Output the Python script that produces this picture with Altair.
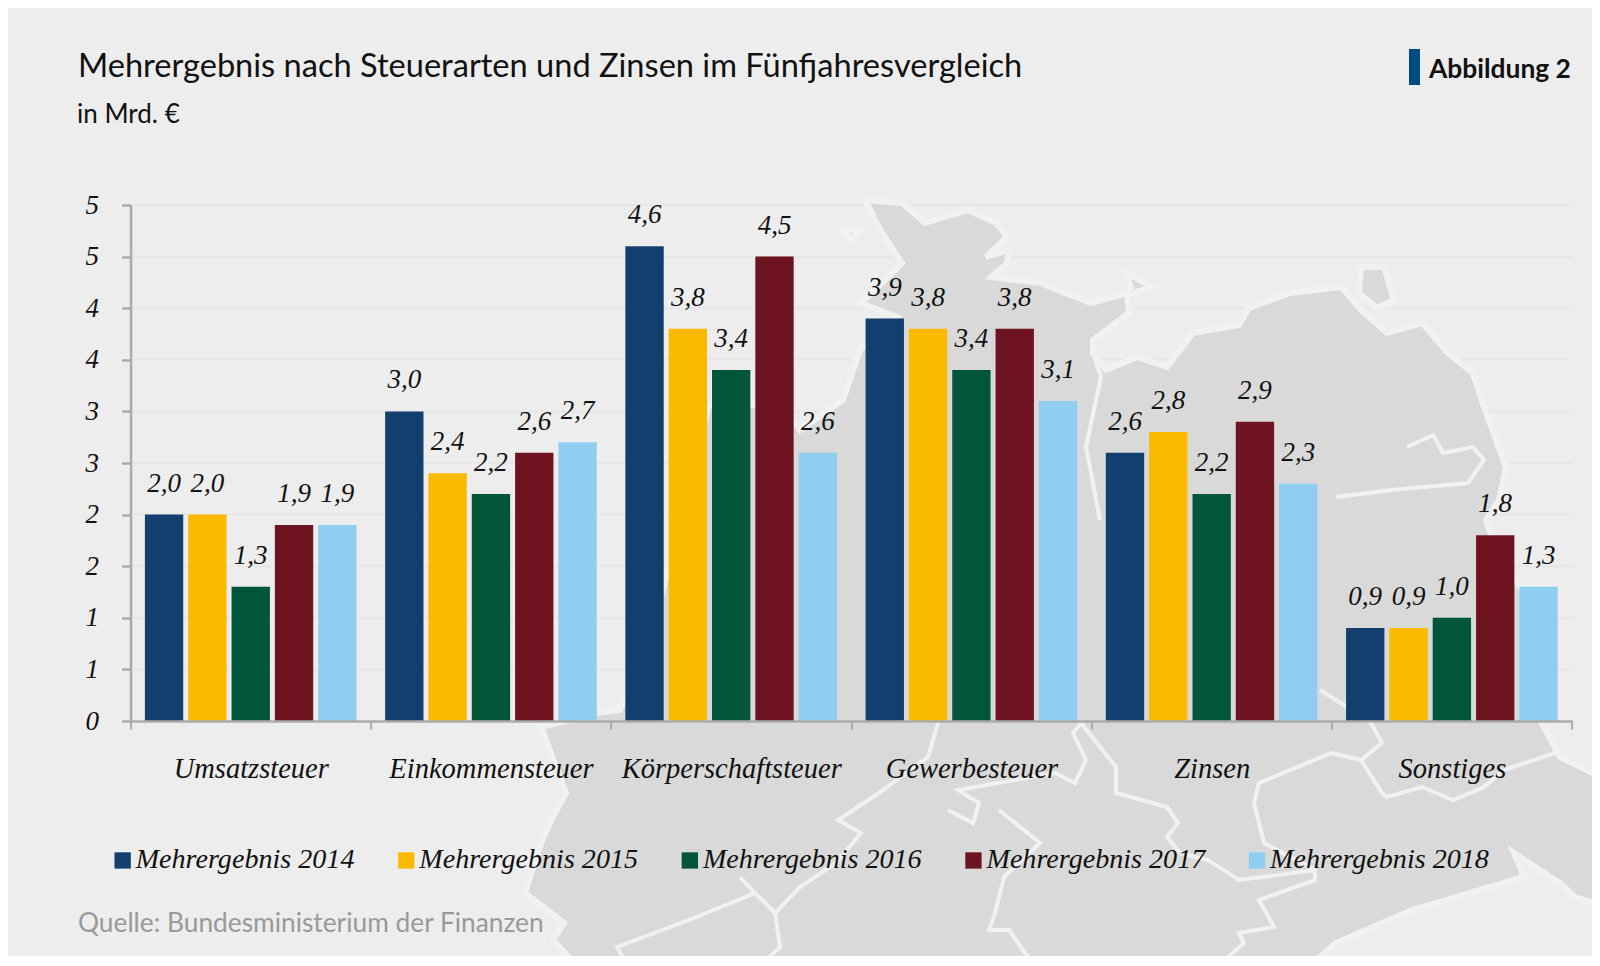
import altair as alt
import pandas as pd

categories = ["Umsatzsteuer", "Einkommensteuer", "Körperschaftsteuer", "Gewerbesteuer", "Zinsen", "Sonstiges"]
series = ["Mehrergebnis 2014", "Mehrergebnis 2015", "Mehrergebnis 2016", "Mehrergebnis 2017", "Mehrergebnis 2018"]
colors = ["#123F6D", "#FBB900", "#00553A", "#6E1420", "#8FCEF0"]
v2014 = [2.0, 3.0, 4.6, 3.9, 2.6, 0.9]
v2015 = [2.0, 2.4, 3.8, 3.8, 2.8, 0.9]
v2016 = [1.3, 2.2, 3.4, 3.4, 2.2, 1.0]
v2017 = [1.9, 2.6, 4.5, 3.8, 2.9, 1.8]
v2018 = [1.9, 2.7, 2.6, 3.1, 2.3, 1.3]
y_ticks = [0, 0.5, 1, 1.5, 2, 2.5, 3, 3.5, 4, 4.5, 5]

FONT_SERIF = "Liberation Serif"
FONT_SANS = "Lato"
OX, OY = 130.6, 205.0  # plot origin in page pixels
PLOT_W, PLOT_H = 1441.4, 516

# Decorative background map (page pixels)
land = [[865,200],[902,203],[925,223],[968,210],[996,223],[1007,237],[986,257],[1009,250],[1007,263],[991,277],
        [1040,283],[1091,303],[1127,293],[1129,313],[1093,340],[1093,353],[1106,370],[1137,357],[1167,367],[1193,333],
        [1239,325],[1249,308],[1290,293],[1341,287],[1361,310],[1387,333],[1422,323],[1448,353],[1473,373],[1484,407],
        [1496,440],[1506,467],[1499,500],[1486,520],[1500,560],[1530,600],[1540,720],[1560,757],[1600,777],[1600,905],
        [1575,897],[1560,883],[1514,853],[1524,877],[1412,910],[1336,943],[1310,966],[577,966],[553,940],[564,923],
        [525,893],[541,843],[551,820],[566,793],[541,727],[597,713],[620,710],[663,590],[709,405],[780,405],[800,430],
        [843,400],[860,350],[897,317],[861,303],[902,263],[882,233],[865,200]]
islands = [
    [[1361,267],[1384,267],[1394,300],[1377,308],[1359,293],[1361,267]],
    [[1127,273],[1152,287],[1132,293],[1127,273]],
    [[843,230],[859,230],[851,240],[843,230]],
]
borders = [
    [[740,877],[755,893],[689,920],[617,947],[628,966]],
    [[755,893],[775,913],[780,947],[760,966]],
    [[775,913],[800,887],[836,863],[861,833],[838,820],[879,793],[928,757],[938,723],[938,700]],
    [[948,810],[973,823],[979,803],[958,790],[1055,773],[1075,783],[1086,760],[1073,733],[1081,723],[1116,767],
     [1116,793],[1167,807],[1178,823],[1167,837],[1180,853],[1208,860],[1239,880],[1315,870],[1315,880],[1259,900],
     [1274,927],[1239,933],[1244,943],[1218,966]],
    [[999,810],[1040,843],[1004,877],[994,917],[989,930],[1009,930],[1030,960]],
    [[1315,870],[1264,843],[1254,803],[1259,783],[1331,753],[1361,760],[1382,743],[1371,723],[1336,700],[1320,690]],
    [[1361,760],[1382,793],[1387,797],[1422,787],[1453,800],[1484,787],[1504,770],[1555,753],[1600,777]],
    [[1407,447],[1433,435],[1443,453],[1473,447],[1484,460],[1468,483],[1392,490],[1336,497]],
    [[1093,353],[1101,377],[1096,400],[1086,447],[1091,473],[1100,520]],
]


def to_plot(path):
    return [[x - OX, y - OY] for x, y in path]


def feature(kind, coords):
    return {"type": "Feature", "properties": {}, "geometry": {"type": kind, "coordinates": coords}}


land_features = [feature("Polygon", [to_plot(land)])] + [feature("Polygon", [to_plot(p)]) for p in islands]
border_features = [feature("LineString", to_plot(p)) for p in borders]

map_land = alt.Chart(alt.Data(values=land_features)).mark_geoshape(
    fill="#D9D9D9", stroke="#F1F1F1", strokeWidth=6, clip=False
).project(type="identity", scale=1, translate=[0, 0])
map_lines = alt.Chart(alt.Data(values=border_features)).mark_geoshape(
    filled=False, stroke="#F1F1F1", strokeWidth=4, clip=False
).project(type="identity", scale=1, translate=[0, 0])

rows = []
for s, vals in zip(series, [v2014, v2015, v2016, v2017, v2018]):
    for c, v in zip(categories, vals):
        rows.append({"Kategorie": c, "Serie": s, "Wert": v, "Text": f"{v:.1f}".replace(".", ",")})
df = pd.DataFrame(rows)

y_scale = alt.Scale(domain=[0, 5], nice=False)
y_axis = alt.Axis(values=y_ticks, format=".0f", labelFont=FONT_SERIF, labelFontStyle="italic", labelFontSize=27,
                  labelColor="#111111", labelPadding=23, tickColor="#ABABAB", tickSize=9, tickWidth=2.5,
                  domainColor="#ABABAB", domainWidth=2.5, grid=False, zindex=1)
x = alt.X("Kategorie:N", sort=categories, title=None,
          scale=alt.Scale(paddingInner=0, paddingOuter=0),
          axis=alt.Axis(labelAngle=0, labelFont=FONT_SERIF, labelFontStyle="italic", labelFontSize=28.5,
                        labelColor="#111111", labelPadding=25, labelLimit=260, tickBand="extent",
                        tickColor="#ABABAB", tickSize=8, tickWidth=2, domainColor="#ABABAB", domainWidth=2.5,
                        grid=False, zindex=1))
xo = alt.XOffset("Serie:N", sort=series, scale=alt.Scale(paddingInner=0.115, paddingOuter=0.33))
y = alt.Y("Wert:Q", title=None, scale=y_scale, axis=y_axis)

grid = alt.Chart(pd.DataFrame({"t": y_ticks[1:]})).mark_rule(color="#E5E5E5", strokeWidth=1.5).encode(
    y=alt.Y("t:Q", scale=y_scale, axis=y_axis, title=None),
    x=alt.value(0), x2=alt.value(PLOT_W),
)

bars = alt.Chart(df).mark_bar(stroke=None).encode(
    x=x, xOffset=xo, y=y,
    color=alt.Color("Serie:N", sort=series, scale=alt.Scale(domain=series, range=colors), title=None,
                    legend=alt.Legend(orient="none", legendX=-22, legendY=641, direction="horizontal", columns=5,
                                      symbolType="square", symbolSize=266, symbolStrokeWidth=0,
                                      labelOffset={"expr": "-1"},
                                      labelFont=FONT_SERIF, labelFontStyle="italic", labelFontSize=28.1,
                                      labelColor="#111111", labelLimit=300, columnPadding=37.6)),
)
labels = alt.Chart(df).mark_text(font=FONT_SERIF, fontStyle="italic", fontSize=27, color="#111111",
                                 baseline="alphabetic", dy=-23).encode(x=x, xOffset=xo, y=y, text="Text:N")


def note(txt, px, py, size, font=FONT_SANS, color="#111111", weight="normal"):
    return alt.Chart(pd.DataFrame({"t": [txt]})).mark_text(
        font=font, fontSize=size, color=color, fontWeight=weight, align="left", baseline="alphabetic"
    ).encode(x=alt.value(px - OX), y=alt.value(py - OY), text="t:N")


title = note("Mehrergebnis nach Steuerarten und Zinsen im Fünfjahresvergleich", 78, 77, 32.6)
subtitle = note("in Mrd. €", 77, 123, 26)
fig = note("Abbildung 2", 1429, 78, 26.4, weight="bold")
source = note("Quelle: Bundesministerium der Finanzen", 78, 932, 26.3, color="#999999")
marker = alt.Chart(pd.DataFrame({"a": [0]})).mark_rect(color="#004B82").encode(
    x=alt.value(1409 - OX), x2=alt.value(1420 - OX), y=alt.value(49 - OY), y2=alt.value(85 - OY)
)

chart = alt.layer(grid, map_land, map_lines, bars, labels, title, subtitle, fig, source, marker).properties(
    width=PLOT_W, height=PLOT_H,
    autosize=alt.AutoSizeParams(type="none"),
    padding={"left": 122.6, "top": 197, "right": 20, "bottom": 235},
    background="#EDEDED",
).configure_view(stroke=None)

chart.save("out.html", embed_options={"renderer": "svg", "actions": False})
